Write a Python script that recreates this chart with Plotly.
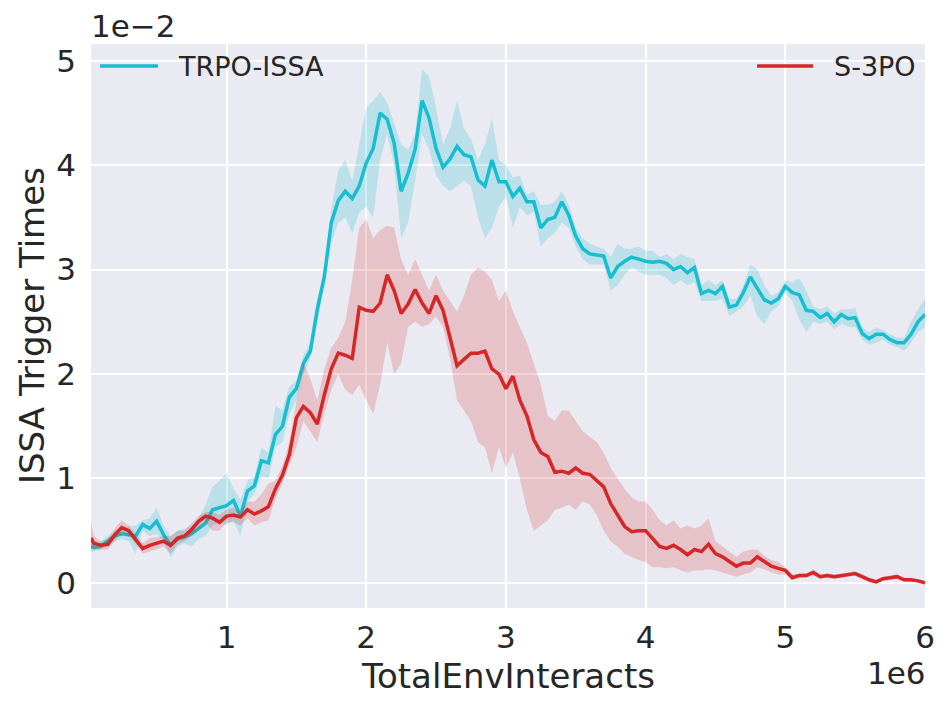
import plotly.graph_objects as go

# x in units of 1e6 environment interactions
x_steps = [0.03,
    0.05, 0.10, 0.15, 0.20, 0.25, 0.30, 0.35, 0.40, 0.45, 0.50,
    0.55, 0.60, 0.65, 0.70, 0.75, 0.80, 0.85, 0.90, 0.95, 1.00,
    1.05, 1.10, 1.15, 1.20, 1.25, 1.30, 1.35, 1.40, 1.45, 1.50,
    1.55, 1.60, 1.65, 1.70, 1.75, 1.80, 1.85, 1.90, 1.95, 2.00,
    2.05, 2.10, 2.15, 2.20, 2.25, 2.30, 2.35, 2.40, 2.45, 2.50,
    2.55, 2.60, 2.65, 2.70, 2.75, 2.80, 2.85, 2.90, 2.95, 3.00,
    3.05, 3.10, 3.15, 3.20, 3.25, 3.30, 3.35, 3.40, 3.45, 3.50,
    3.55, 3.60, 3.65, 3.70, 3.75, 3.80, 3.85, 3.90, 3.95, 4.00,
    4.05, 4.10, 4.15, 4.20, 4.25, 4.30, 4.35, 4.40, 4.45, 4.50,
    4.55, 4.60, 4.65, 4.70, 4.75, 4.80, 4.85, 4.90, 4.95, 5.00,
    5.05, 5.10, 5.15, 5.20, 5.25, 5.30, 5.35, 5.40, 5.45, 5.50,
    5.55, 5.60, 5.65, 5.70, 5.75, 5.80, 5.85, 5.90, 5.95, 6.00]

# values in units of 1e-2
trpo_mean = [0.35,
    0.34, 0.35, 0.40, 0.45, 0.47, 0.46, 0.45, 0.56, 0.52, 0.59,
    0.46, 0.36, 0.42, 0.44, 0.47, 0.52, 0.57, 0.70, 0.72, 0.74,
    0.79, 0.64, 0.88, 0.93, 1.17, 1.15, 1.42, 1.50, 1.78, 1.86,
    2.10, 2.22, 2.62, 2.93, 3.45, 3.66, 3.75, 3.68, 3.80, 4.02,
    4.16, 4.50, 4.44, 4.21, 3.75, 3.92, 4.15, 4.62, 4.45, 4.16,
    3.98, 4.06, 4.18, 4.10, 4.08, 3.86, 3.80, 4.05, 3.84, 3.84,
    3.70, 3.78, 3.65, 3.65, 3.40, 3.48, 3.50, 3.65, 3.52, 3.32,
    3.20, 3.15, 3.14, 3.13, 2.92, 3.03, 3.08, 3.12, 3.10, 3.08,
    3.07, 3.08, 3.06, 3.00, 3.03, 2.97, 3.02, 2.77, 2.80, 2.77,
    2.84, 2.64, 2.66, 2.78, 2.93, 2.82, 2.71, 2.68, 2.72, 2.84,
    2.78, 2.76, 2.61, 2.60, 2.54, 2.58, 2.50, 2.57, 2.53, 2.54,
    2.39, 2.34, 2.38, 2.38, 2.33, 2.30, 2.30, 2.38, 2.50, 2.57]
trpo_hi = [0.40,
    0.38, 0.40, 0.45, 0.50, 0.52, 0.54, 0.55, 0.60, 0.62, 0.72,
    0.55, 0.45, 0.50, 0.52, 0.55, 0.62, 0.75, 0.92, 0.98, 1.05,
    0.90, 0.80, 0.98, 1.02, 1.30, 1.25, 1.70, 1.65, 1.88, 1.93,
    2.18, 2.30, 2.72, 3.00, 3.58, 3.95, 4.05, 3.85, 4.20, 4.55,
    4.62, 4.70, 4.60, 4.40, 4.20, 4.15, 4.30, 4.92, 4.85, 4.55,
    4.20, 4.35, 4.62, 4.35, 4.25, 4.05, 4.20, 4.45, 4.05, 4.00,
    3.88, 3.90, 3.72, 3.75, 3.62, 3.62, 3.65, 3.75, 3.62, 3.40,
    3.30, 3.25, 3.22, 3.20, 3.12, 3.25, 3.20, 3.20, 3.22, 3.18,
    3.18, 3.12, 3.15, 3.10, 3.15, 3.12, 3.10, 2.85, 2.90, 2.85,
    2.90, 2.72, 2.72, 2.85, 3.05, 3.00, 2.85, 2.75, 2.78, 2.90,
    2.88, 2.92, 2.80, 2.65, 2.62, 2.65, 2.58, 2.62, 2.62, 2.63,
    2.45, 2.40, 2.45, 2.42, 2.38, 2.35, 2.35, 2.50, 2.62, 2.72]
trpo_lo = [0.30,
    0.30, 0.32, 0.36, 0.40, 0.42, 0.40, 0.28, 0.50, 0.45, 0.47,
    0.40, 0.24, 0.35, 0.38, 0.35, 0.42, 0.45, 0.55, 0.58, 0.55,
    0.60, 0.45, 0.78, 0.85, 1.02, 1.00, 1.30, 1.35, 1.62, 1.75,
    2.00, 2.15, 2.48, 2.85, 3.25, 3.45, 3.50, 3.35, 3.55, 3.60,
    3.50, 4.05, 4.30, 4.00, 3.30, 3.45, 3.85, 4.30, 4.15, 3.90,
    3.80, 3.75, 3.80, 3.85, 3.80, 3.50, 3.30, 3.40, 3.60, 3.70,
    3.40, 3.60, 3.52, 3.55, 3.22, 3.30, 3.35, 3.45, 3.40, 3.22,
    3.10, 3.05, 3.05, 3.05, 2.80, 2.85, 2.95, 3.02, 2.98, 2.95,
    2.95, 2.95, 2.92, 2.85, 2.90, 2.85, 2.88, 2.70, 2.70, 2.70,
    2.72, 2.55, 2.60, 2.65, 2.75, 2.55, 2.48, 2.60, 2.65, 2.78,
    2.70, 2.52, 2.40, 2.50, 2.48, 2.50, 2.43, 2.48, 2.45, 2.45,
    2.33, 2.28, 2.30, 2.33, 2.28, 2.26, 2.22, 2.30, 2.40, 2.45]

s3po_mean = [0.43,
    0.38, 0.36, 0.37, 0.46, 0.53, 0.50, 0.42, 0.33, 0.36, 0.38,
    0.40, 0.36, 0.43, 0.45, 0.51, 0.59, 0.64, 0.62, 0.58, 0.64,
    0.65, 0.63, 0.70, 0.66, 0.69, 0.73, 0.90, 1.03, 1.23, 1.58,
    1.69, 1.63, 1.52, 1.80, 2.05, 2.20, 2.18, 2.15, 2.64, 2.61,
    2.60, 2.68, 2.95, 2.80, 2.58, 2.67, 2.81, 2.68, 2.58, 2.75,
    2.61, 2.35, 2.08, 2.14, 2.20, 2.20, 2.22, 2.05, 2.00, 1.86,
    1.98, 1.75, 1.60, 1.37, 1.25, 1.21, 1.06, 1.07, 1.05, 1.10,
    1.05, 1.04, 0.98, 0.92, 0.76, 0.65, 0.54, 0.49, 0.50, 0.50,
    0.42, 0.35, 0.33, 0.36, 0.32, 0.27, 0.32, 0.30, 0.37, 0.28,
    0.25, 0.20, 0.16, 0.19, 0.19, 0.25, 0.20, 0.16, 0.14, 0.12,
    0.05, 0.07, 0.07, 0.10, 0.06, 0.07, 0.06, 0.07, 0.08, 0.09,
    0.06, 0.03, 0.01, 0.04, 0.05, 0.06, 0.03, 0.03, 0.02, 0.00]
s3po_hi = [0.58,
    0.45, 0.40, 0.42, 0.52, 0.60, 0.55, 0.47, 0.38, 0.43, 0.44,
    0.45, 0.45, 0.50, 0.50, 0.57, 0.64, 0.68, 0.68, 0.65, 0.70,
    0.72, 0.68, 0.78, 0.78, 0.85, 0.95, 0.98, 1.12, 1.35, 1.75,
    2.12, 1.95, 1.75, 2.05, 2.25, 2.35, 2.50, 2.90, 3.40, 3.48,
    3.30, 3.38, 3.42, 3.40, 3.10, 2.95, 3.10, 2.95, 2.80, 2.95,
    2.80, 2.70, 2.60, 2.75, 2.95, 3.02, 2.98, 2.90, 2.70, 2.80,
    2.60, 2.45, 2.30, 2.10, 1.90, 1.60, 1.55, 1.65, 1.65, 1.55,
    1.45, 1.40, 1.35, 1.25, 1.10, 1.00, 0.90, 0.82, 0.78, 0.78,
    0.70, 0.60, 0.55, 0.60, 0.52, 0.55, 0.52, 0.55, 0.62, 0.40,
    0.35, 0.30, 0.25, 0.30, 0.32, 0.32, 0.26, 0.22, 0.20, 0.15,
    0.08, 0.09, 0.09, 0.13, 0.08, 0.09, 0.08, 0.09, 0.10, 0.11,
    0.08, 0.05, 0.03, 0.06, 0.07, 0.08, 0.05, 0.05, 0.03, 0.01]
s3po_lo = [0.32,
    0.32, 0.32, 0.32, 0.40, 0.48, 0.45, 0.37, 0.28, 0.30, 0.32,
    0.35, 0.28, 0.37, 0.40, 0.45, 0.52, 0.58, 0.50, 0.50, 0.58,
    0.58, 0.55, 0.62, 0.55, 0.58, 0.60, 0.80, 0.95, 1.12, 1.30,
    1.55, 1.45, 1.35, 1.62, 1.85, 2.00, 1.85, 1.80, 1.90, 1.75,
    1.62, 1.90, 2.30, 2.00, 2.10, 2.45, 2.50, 2.45, 2.48, 2.55,
    2.45, 2.15, 1.75, 1.65, 1.55, 1.35, 1.30, 1.05, 1.30, 1.10,
    1.25, 1.00, 0.70, 0.50, 0.55, 0.60, 0.70, 0.72, 0.75, 0.70,
    0.78, 0.75, 0.65, 0.50, 0.40, 0.35, 0.28, 0.25, 0.22, 0.20,
    0.15, 0.15, 0.14, 0.15, 0.12, 0.10, 0.12, 0.12, 0.13, 0.12,
    0.10, 0.08, 0.06, 0.08, 0.10, 0.15, 0.13, 0.10, 0.08, 0.08,
    0.03, 0.05, 0.05, 0.07, 0.04, 0.05, 0.04, 0.05, 0.06, 0.07,
    0.04, 0.01, 0.00, 0.02, 0.03, 0.04, 0.01, 0.01, 0.01, -0.01]

x_ticks = [1, 2, 3, 4, 5, 6]
y_ticks = [0, 1, 2, 3, 4, 5]

CYAN = "#17becf"
RED = "#d62728"
FONT = "DejaVu Sans"
TXT = "#262626"

fig = go.Figure()

def add_series(mean, lo, hi, color, fill, name):
    fig.add_trace(go.Scatter(
        x=x_steps + x_steps[::-1], y=hi + lo[::-1],
        fill="toself", fillcolor=fill, line=dict(width=0),
        mode="lines", hoverinfo="skip", showlegend=False))
    fig.add_trace(go.Scatter(
        x=x_steps, y=mean, mode="lines", name=name,
        line=dict(color=color, width=3.5), showlegend=False))

add_series(trpo_mean, trpo_lo, trpo_hi, CYAN, "rgba(23,190,207,0.22)", "TRPO-ISSA")
add_series(s3po_mean, s3po_lo, s3po_hi, RED, "rgba(214,39,40,0.2)", "S-3PO")

# page offset of the figure in the browser (body margin)
OFF = 8
W, H = 951 - OFF, 709 - OFF
L, T = 91 - OFF, 44 - OFF
R = W - (925 - OFF)
B = H - (608 - OFF)
pw, ph = W - L - R, H - T - B

def px_x(p):
    return (p - OFF - L) / pw

def px_y(p):
    return (H - B - (p - OFF)) / ph

shapes = [
    dict(type="line", xref="paper", yref="paper", x0=px_x(100), x1=px_x(158),
         y0=px_y(66), y1=px_y(66), line=dict(color=CYAN, width=3.5)),
    dict(type="line", xref="paper", yref="paper", x0=px_x(757), x1=px_x(813),
         y0=px_y(66), y1=px_y(66), line=dict(color=RED, width=3.5)),
]
annotations = [
    dict(text="TRPO-ISSA", xref="paper", yref="paper", x=px_x(176), y=px_y(67),
         xanchor="left", yanchor="middle", showarrow=False,
         font=dict(family=FONT, size=27, color=TXT)),
    dict(text="S-3PO", xref="paper", yref="paper", x=px_x(832), y=px_y(67),
         xanchor="left", yanchor="middle", showarrow=False,
         font=dict(family=FONT, size=27, color=TXT)),
    dict(text="1e\u22122", xref="paper", yref="paper", x=px_x(89), y=px_y(26),
         xanchor="left", yanchor="middle", showarrow=False,
         font=dict(family=FONT, size=31, color=TXT)),
    dict(text="1e6", xref="paper", yref="paper", x=px_x(928), y=px_y(673),
         xanchor="right", yanchor="middle", showarrow=False,
         font=dict(family=FONT, size=31, color=TXT)),
    dict(text="TotalEnvInteracts", xref="paper", yref="paper", x=px_x(508), y=px_y(676),
         xanchor="center", yanchor="middle", showarrow=False,
         font=dict(family=FONT, size=34, color=TXT)),
    dict(text="ISSA Trigger Times", xref="paper", yref="paper", x=px_x(32), y=px_y(326),
         xanchor="center", yanchor="middle", showarrow=False, textangle=-90,
         font=dict(family=FONT, size=34, color=TXT)),
]

fig.update_layout(
    width=W, height=H,
    margin=dict(l=L, r=R, t=T, b=B, pad=0),
    paper_bgcolor="white", plot_bgcolor="#EAEAF2",
    shapes=shapes, annotations=annotations,
    showlegend=False,
)
fig.update_xaxes(range=[0.03, 6.0], tickvals=x_ticks, ticktext=[str(v) for v in x_ticks],
                 showgrid=True, gridcolor="white", gridwidth=2, zeroline=False,
                 showline=False, ticks="", ticklabelstandoff=8,
                 tickfont=dict(family=FONT, size=31, color=TXT))
fig.update_yaxes(range=[-0.24, 5.16], tickvals=y_ticks, ticktext=[str(v) for v in y_ticks],
                 showgrid=True, gridcolor="white", gridwidth=2, zeroline=False,
                 showline=False, ticks="", ticklabelstandoff=14,
                 tickfont=dict(family=FONT, size=31, color=TXT))

fig.write_html("out.html")
